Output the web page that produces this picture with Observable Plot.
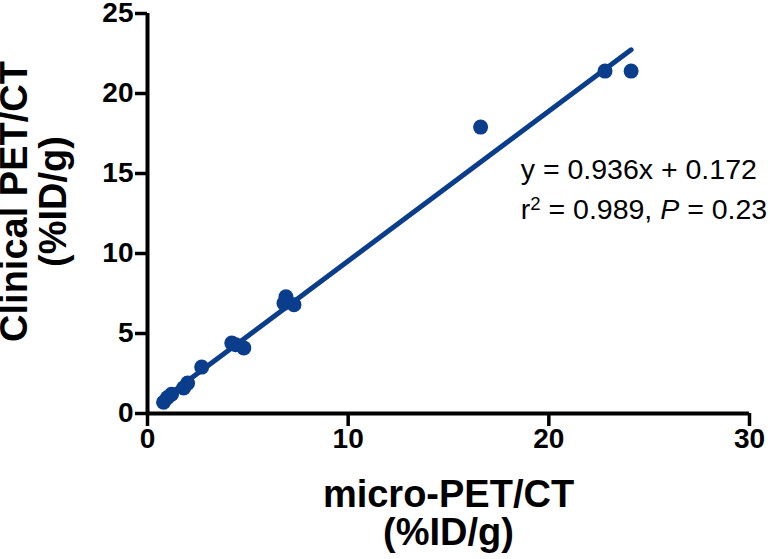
<!DOCTYPE html>
<html><head><meta charset="utf-8">
<script src="https://cdn.jsdelivr.net/npm/d3@7"></script>
<script src="https://cdn.jsdelivr.net/npm/@observablehq/plot@0.6"></script>
<style>
html,body{margin:0;padding:0;background:#fff;}
#chart svg{display:block;}
</style></head><body><div id="chart"></div>
<script>
const microPET    = [0.8, 1.0, 1.2, 1.8, 2.0, 2.7, 4.2, 4.4, 4.8, 6.8, 6.9, 7.3, 16.6, 22.8, 24.1];
const clinicalPET = [0.7, 1.0, 1.2, 1.6, 1.9, 2.9, 4.4, 4.3, 4.1, 6.9, 7.3, 6.8, 17.9, 21.4, 21.4];
const xTicks = [0, 10, 20, 30];
const yTicks = [0, 5, 10, 15, 20, 25];
const slope = 0.936, intercept = 0.172;
const eqLine1 = "y = 0.936x + 0.172";
const eqLine2 = "r2 = 0.989, P = 0.23";
const xTitle = "micro-PET/CT\n(%ID/g)";
const yTitle = "Clinical PET/CT\n(%ID/g)";
const blue = "#0a3d8b";

const points = microPET.map((x, i) => ({x, y: clinicalPET[i]}));
const fit = d3.extent(microPET).map(x => ({x, y: slope * x + intercept}));
const annotations = [
  {x: 18.6, y: 15.25, label: eqLine1},
  {x: 18.6, y: 12.75, label: eqLine2}
];

const chart = Plot.plot({
  width: 770, height: 559,
  marginLeft: 147, marginRight: 21, marginTop: 13, marginBottom: 146,
  style: {fontFamily: "'Liberation Sans', Arial, sans-serif", color: "#000", background: "#fff", overflow: "visible"},
  x: {domain: [0, 30]},
  y: {domain: [0, 25]},
  marks: [
    Plot.axisX({ticks: xTicks, tickSize: 13, strokeWidth: 3.5, tickFormat: () => "", label: null}),
    Plot.axisY({ticks: yTicks, tickSize: 12, strokeWidth: 3.5, tickFormat: () => "", label: null}),
    Plot.text(xTicks, {x: d => d, frameAnchor: "bottom", lineAnchor: "top", dy: 15, fontSize: 28, fontWeight: "bold"}),
    Plot.text(yTicks, {y: d => d, frameAnchor: "left", textAnchor: "end", dx: -14, fontSize: 28, fontWeight: "bold"}),
    Plot.ruleY([0], {strokeWidth: 4}),
    Plot.ruleX([0], {strokeWidth: 4}),
    Plot.line(fit, {x: "x", y: "y", stroke: blue, strokeWidth: 5}),
    Plot.dot(points, {x: "x", y: "y", r: 7.5, fill: blue}),
    Plot.text([xTitle], {frameAnchor: "bottom", lineAnchor: "top", dy: 67, fontSize: 38, fontWeight: "bold", lineHeight: 1.0}),
    Plot.text([yTitle], {frameAnchor: "left", textAnchor: "middle", rotate: -90, lineAnchor: "top", dx: -149, dy: -12, fontSize: 38, fontWeight: "bold", lineHeight: 1.04}),
    Plot.text(annotations, {x: "x", y: "y", text: "label", textAnchor: "start", fontSize: 28.5})
  ]
});

// rich formatting for second equation line: superscript 2 and italic P
d3.select(chart).selectAll("text").filter(function() { return this.textContent === eqLine2; }).each(function() {
  const t = d3.select(this);
  t.text(null);
  t.append("tspan").text("r");
  t.append("tspan").attr("dy", "-0.45em").attr("font-size", "0.65em").text("2");
  t.append("tspan").attr("dy", "0.29em").text(" = 0.989, ");
  t.append("tspan").attr("font-style", "italic").text("P");
  t.append("tspan").text(" = 0.23");
});

document.getElementById("chart").appendChild(chart);
</script></body></html>
